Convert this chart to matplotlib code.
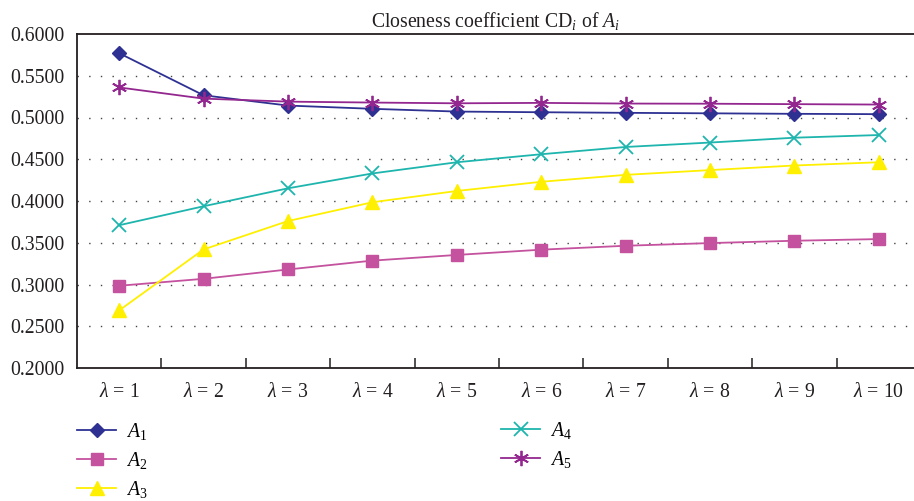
import matplotlib
matplotlib.use("Agg")
import matplotlib.pyplot as plt

plt.rcParams["font.family"] = ["Liberation Serif", "DejaVu Serif"]
plt.rcParams["mathtext.fontset"] = "custom"
plt.rcParams["mathtext.rm"] = "Liberation Serif"
plt.rcParams["mathtext.it"] = "Liberation Serif:italic"

# Closeness coefficients for each alternative at lambda = 1..10
lambdas = [1, 2, 3, 4, 5, 6, 7, 8, 9, 10]
tick_labels = [rf"$\lambda$ = {k}" for k in lambdas]
a1 = [0.5770, 0.5266, 0.5143, 0.5104, 0.5071, 0.5063, 0.5056, 0.5050, 0.5044, 0.5040]
a2 = [0.2985, 0.3068, 0.3180, 0.3286, 0.3354, 0.3417, 0.3464, 0.3496, 0.3524, 0.3544]
a3 = [0.2690, 0.3420, 0.3760, 0.3985, 0.4120, 0.4230, 0.4313, 0.4370, 0.4425, 0.4464]
a4 = [0.3710, 0.3937, 0.4152, 0.4330, 0.4464, 0.4560, 0.4647, 0.4700, 0.4758, 0.4790]
a5 = [0.5360, 0.5226, 0.5190, 0.5179, 0.5170, 0.5175, 0.5167, 0.5165, 0.5160, 0.5155]
y_ticks = [0.20, 0.25, 0.30, 0.35, 0.40, 0.45, 0.50, 0.55, 0.60]

series = [
    (r"$A_1$", a1, "#2E3192", "D", 7.5),
    (r"$A_2$", a2, "#C4529E", "s", 9),
    (r"$A_3$", a3, "#FFEF00", "^", 10),
    (r"$A_4$", a4, "#1DB5AD", "x", 10),
    (r"$A_5$", a5, "#93278F", (6, 2, 0), 11),
]

FS = 14.2
W, H = 914, 501
fig = plt.figure(figsize=(W / 100, H / 100), dpi=100)
left, right, top, bottom = 77, 914, 34, 368
ax = fig.add_axes([left / W, 1 - bottom / H, (right - left) / W, (bottom - top) / H])

x = list(range(len(lambdas)))
handles = []
for label, vals, color, marker, ms in series:
    mew = 1.3 if marker == "x" or isinstance(marker, tuple) else 1.0
    (h,) = ax.plot(x, vals, color=color, lw=1.3, marker=marker, ms=ms,
                   mew=mew, mec=color, mfc=color, label=label, clip_on=False, zorder=3)
    handles.append(h)

step = 84.4
ax.set_xlim(-0.5, -0.5 + (right - left) / step)
ax.set_ylim(0.2, 0.6)
ax.set_yticks(y_ticks)
ax.set_yticklabels([f"{v:.4f}" for v in y_ticks], fontsize=FS, color="#231F20")
ax.tick_params(axis="y", length=0, pad=9)
ax.set_xticks(x)
ax.set_xticklabels(tick_labels, fontsize=FS, color="#231F20")
ax.tick_params(axis="x", length=0, pad=11)
# category separators along the bottom axis
ax.set_xticks([k + 0.5 for k in x[:-1]], minor=True)
ax.tick_params(axis="x", which="minor", direction="in", length=7, width=1.1, color="#231F20")

for v in y_ticks[1:-1]:
    ax.axhline(v, color="#444444", lw=1.0, ls=(0, (1, 7.4)), zorder=1)

for s in ("left", "bottom", "top"):
    ax.spines[s].set_color("#231F20")
    ax.spines[s].set_linewidth(1.3)
ax.spines["right"].set_visible(False)

ax.set_title(r"Closeness coefficient CD$_i$ of $A_i$", fontsize=FS, color="#231F20", pad=5,
             x=(496 - left) / (right - left))

leg_kw = dict(frameon=False, fontsize=FS, handlelength=2.0, handletextpad=0.5,
              labelspacing=0.4, borderaxespad=0, borderpad=0, loc="upper left")
fig.legend(handles=handles[:3], bbox_to_anchor=(77 / W, 1 - 421 / H), **leg_kw)
fig.legend(handles=handles[3:], bbox_to_anchor=(501 / W, 1 - 420 / H), **leg_kw)

fig.savefig("out.png", dpi=100)
